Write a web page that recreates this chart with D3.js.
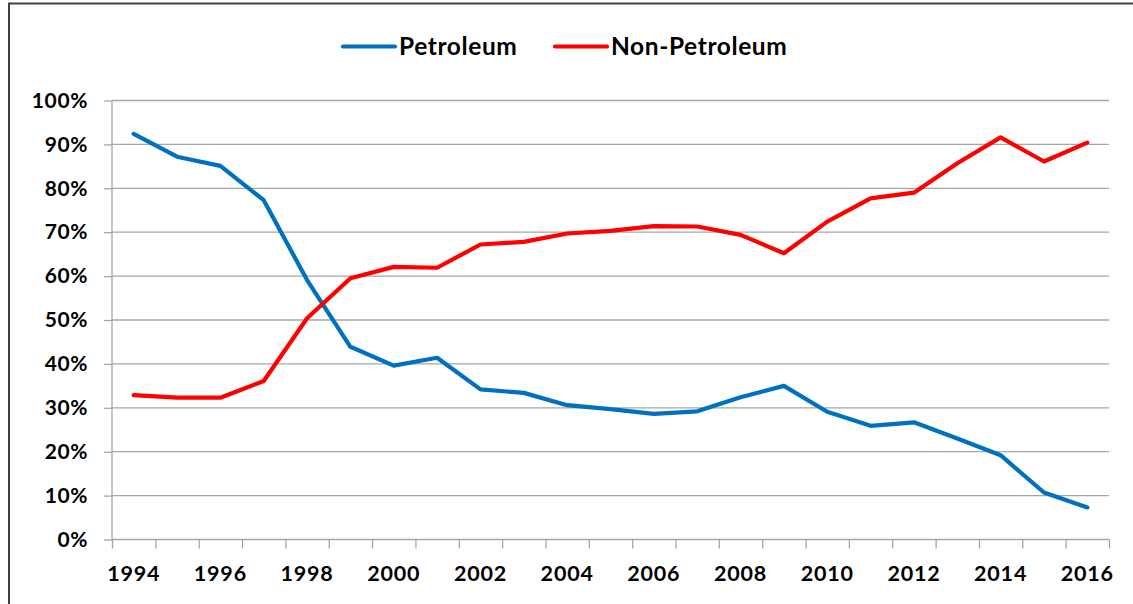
<!DOCTYPE html>
<html>
<head>
<meta charset="utf-8">
<script src="https://cdn.jsdelivr.net/npm/d3@7"></script>
<style>
  body { margin: 0; background: #fff; }
  text { font-family: Lato, "Open Sans", sans-serif; font-weight: bold; fill: #000; }
</style>
</head>
<body>
<svg id="drawing_region"></svg>
<script>
const years = d3.range(1994, 2017);
const petroleum = [92.4, 87.2, 85.1, 77.3, 59.1, 43.9, 39.6, 41.4, 34.2, 33.4, 30.6, 29.7,
    28.6, 29.2, 32.4, 35.0, 29.1, 25.9, 26.7, 23.0, 19.2, 10.7, 7.3];
const nonPetroleum = [32.9, 32.3, 32.3, 36.1, 50.4, 59.5, 62.1, 61.9, 67.2, 67.8, 69.7, 70.3,
    71.4, 71.3, 69.4, 65.2, 72.4, 77.7, 79.0, 85.7, 91.6, 86.1, 90.4];
const yTicks = d3.range(0, 101, 10);
const xLabels = d3.range(1994, 2017, 2);
const seriesNames = ['Petroleum', 'Non-Petroleum'];
const seriesColors = ['#0070C0', '#FF0000'];

const width = 1133, height = 604;
const margin = { top: 100.5, right: 24, bottom: 64.5, left: 112 };

const svg = d3.select('#drawing_region')
    .attr('width', width)
    .attr('height', height);

// chart frame (cropped on the right and bottom)
svg.append('rect')
    .attr('x', 9).attr('y', 3.5)
    .attr('width', 1140).attr('height', 620)
    .attr('fill', 'none')
    .attr('stroke', '#404040')
    .attr('stroke-width', 2);

const x = d3.scaleBand()
    .domain(years)
    .range([margin.left, width - margin.right])
    .padding(0);

const xEdge = d3.scaleLinear()
    .domain([1993.5, 2016.5])
    .range([margin.left, width - margin.right]);

const y = d3.scaleLinear()
    .domain([0, 100])
    .range([height - margin.bottom, margin.top]);

// grid
svg.append('g')
    .selectAll('line')
    .data(yTicks.filter(d => d > 0))
    .join('line')
    .attr('x1', margin.left).attr('x2', width - margin.right)
    .attr('y1', d => y(d)).attr('y2', d => y(d))
    .attr('stroke', '#a6a6a6')
    .attr('stroke-width', 1.3);

// y axis
const yAxis = svg.append('g')
    .attr('transform', `translate(${margin.left},0)`)
    .call(d3.axisLeft(y).tickValues(yTicks).tickSize(8).tickPadding(16)
        .tickFormat(d => d + '%'));
yAxis.selectAll('line, path').attr('stroke', '#a6a6a6').attr('stroke-width', 1.3);
yAxis.select('.domain').attr('d', `M0,${y(0)}V${y(100)}`);
yAxis.selectAll('text').style('font-size', '21px').style('letter-spacing', '0.6px');

// x axis: tick marks at category edges
const xTicks = svg.append('g')
    .attr('transform', `translate(0,${y(0)})`)
    .call(d3.axisBottom(xEdge).tickValues(d3.range(1993.5, 2017, 1)).tickSize(9).tickFormat(''));
xTicks.selectAll('line, path').attr('stroke', '#a6a6a6').attr('stroke-width', 1.3);
xTicks.select('.domain').attr('d', `M${margin.left},0H${width - margin.right}`);

// x labels
const xAxis = svg.append('g')
    .attr('transform', `translate(0,${y(0)})`)
    .call(d3.axisBottom(x).tickValues(xLabels).tickSize(0).tickPadding(26));
xAxis.select('.domain').remove();
xAxis.selectAll('text').style('font-size', '21.5px').style('letter-spacing', '0.8px');

// lines
const line = d3.line()
    .x((d, i) => x(years[i]) + x.bandwidth() / 2)
    .y(d => y(d));

[petroleum, nonPetroleum].forEach((s, i) => {
    svg.append('path')
        .datum(s)
        .attr('fill', 'none')
        .attr('stroke', seriesColors[i])
        .attr('stroke-width', 4.2)
        .attr('stroke-linejoin', 'round')
        .attr('stroke-linecap', 'round')
        .attr('d', line);
});

// legend
const legendX = [343, 555];
const legend = svg.append('g');
seriesNames.forEach((name, i) => {
    legend.append('line')
        .attr('x1', legendX[i]).attr('x2', legendX[i] + 52)
        .attr('y1', 46.5).attr('y2', 46.5)
        .attr('stroke', seriesColors[i])
        .attr('stroke-width', 4.2)
        .attr('stroke-linecap', 'round');
    legend.append('text')
        .attr('x', legendX[i] + 56)
        .attr('y', 55)
        .style('font-size', '24.5px')
        .style('letter-spacing', '0.6px')
        .text(name);
});
</script>
</body>
</html>
